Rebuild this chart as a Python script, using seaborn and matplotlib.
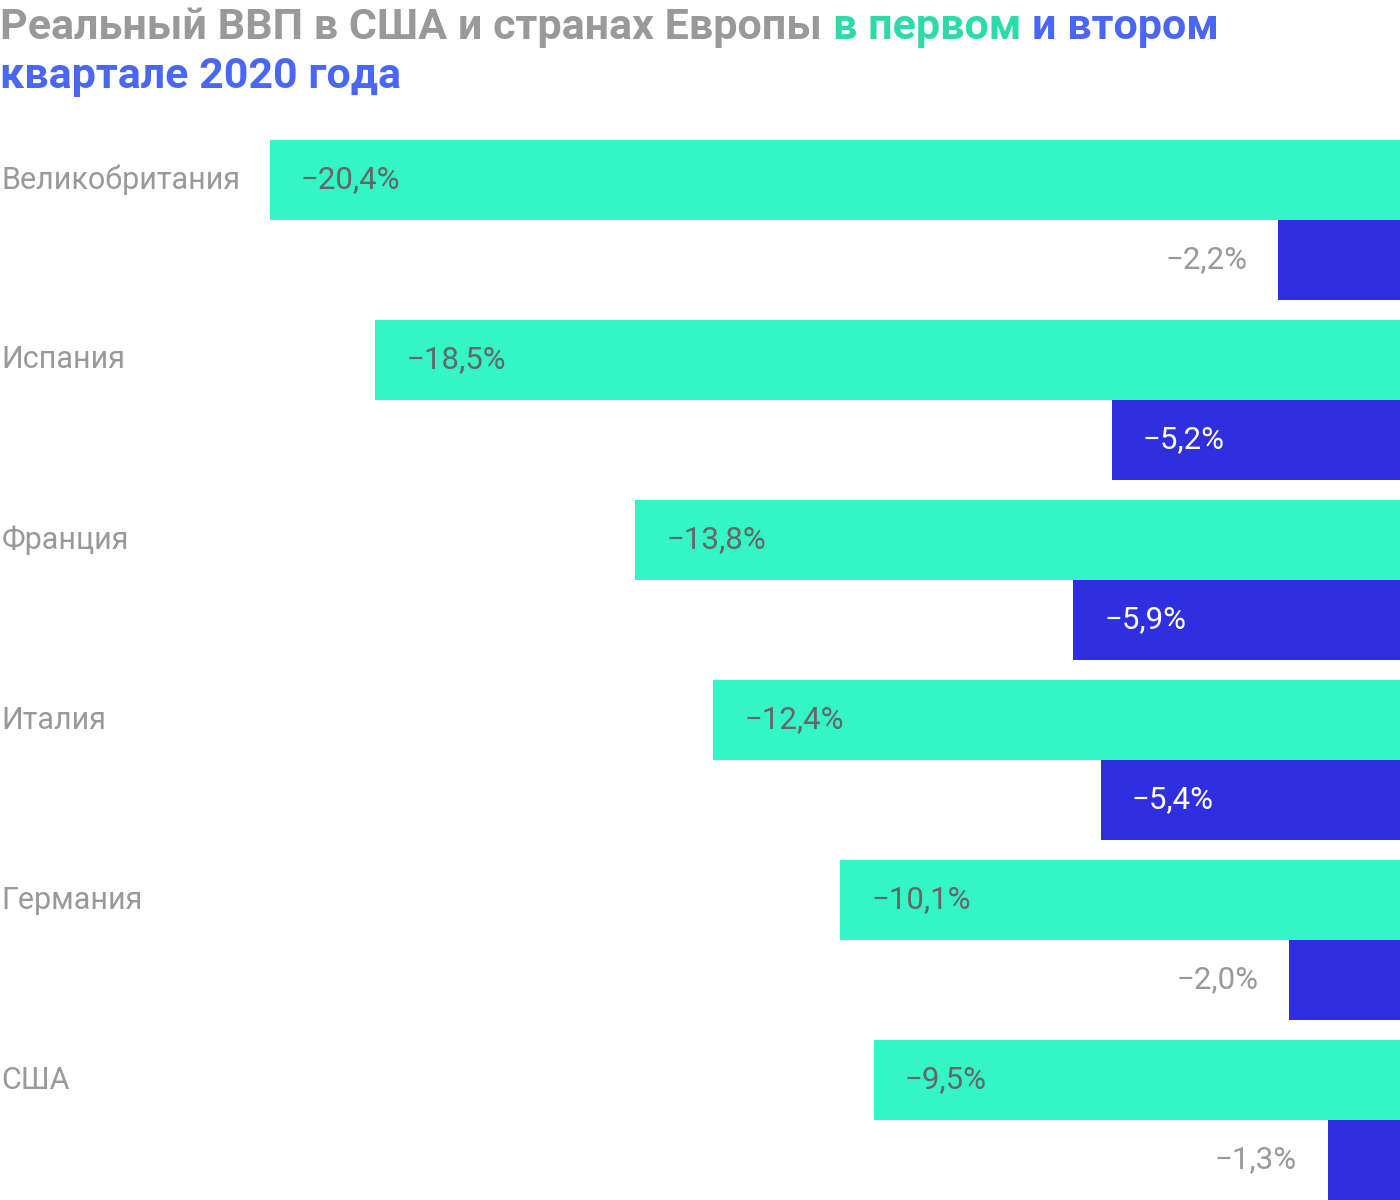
import pandas as pd
import numpy as np
import matplotlib
matplotlib.use("Agg")
import matplotlib.pyplot as plt
import seaborn as sns

# data
countries = ["Великобритания", "Испания", "Франция", "Италия", "Германия", "США"]
q1 = [-20.4, -18.5, -13.8, -12.4, -10.1, -9.5]
q2 = [-2.2, -5.2, -5.9, -5.4, -2.0, -1.3]
quarters = ["Q1", "Q2"]

green = "#33f5c6"
blue = "#2f2fe0"

df = pd.DataFrame({
    "country": countries * 2,
    "quarter": [quarters[0]] * len(countries) + [quarters[1]] * len(countries),
    "value": q1 + q2,
})

sns.set_theme(style="white")
plt.rcParams['font.family'] = ['Roboto', 'DejaVu Sans']

fig = plt.figure(figsize=(14, 12), dpi=100)
ax = fig.add_axes([0, 0, 1, 1060 / 1200])

sns.barplot(data=df, y="country", x="value", hue="quarter", orient="h",
            palette={quarters[0]: green, quarters[1]: blue}, saturation=1,
            width=0.889, linewidth=0, legend=False, ax=ax, errorbar=None)

ax.set_xlim(-25.27, 0)
ax.set_ylim(5.444, -0.444)
ax.set_xlabel("")
ax.set_ylabel("")
ax.set_xticks([])
ax.set_yticks([])
for s in ax.spines.values():
    s.set_visible(False)

fmt = lambda v: ("\u2212" + f"{abs(v):.1f}".replace(".", ",") + "%")

# value labels
for k, cont in enumerate(ax.containers):
    for p in cont.patches:
        v = p.get_width()
        left = p.get_x() + min(v, 0)
        yc = p.get_y() + p.get_height() / 2
        if k == 0:
            ax.annotate(fmt(v), (left, yc), xytext=(31, 0), textcoords="offset pixels",
                        ha="left", va="center", fontsize=22.5, color="#666666")
        elif abs(v) >= 3:
            ax.annotate(fmt(v), (left, yc), xytext=(31, 0), textcoords="offset pixels",
                        ha="left", va="center", fontsize=22.5, color="white")
        else:
            ax.annotate(fmt(v), (left, yc), xytext=(-31, 0), textcoords="offset pixels",
                        ha="right", va="center", fontsize=22.5, color="#999999")

# country labels next to first-quarter bars
for p, name in zip(ax.containers[0].patches, countries):
    yc = p.get_y() + p.get_height() / 2
    ax.text(0.001, yc, name, transform=ax.get_yaxis_transform(), ha="left", va="center",
            fontsize=22, color="#999999")

# multi-coloured title
title_parts = [("Реальный ВВП в США и странах Европы ", "#999999"),
               ("в первом ", "#2ddba9"),
               ("и втором", "#4a66f5")]
renderer = fig.canvas.get_renderer()
x = 0.0
for txt, col in title_parts:
    t = fig.text(x, 1 - 39 / 1200, txt, fontsize=31, fontweight="bold", color=col,
                 ha="left", va="baseline")
    bb = t.get_window_extent(renderer=renderer)
    x = bb.x1 / fig.bbox.width
fig.text(0.0, 1 - 88 / 1200, "квартале 2020 года", fontsize=31, fontweight="bold",
         color="#4a66f5", ha="left", va="baseline")

fig.savefig("out.png", dpi=100)
